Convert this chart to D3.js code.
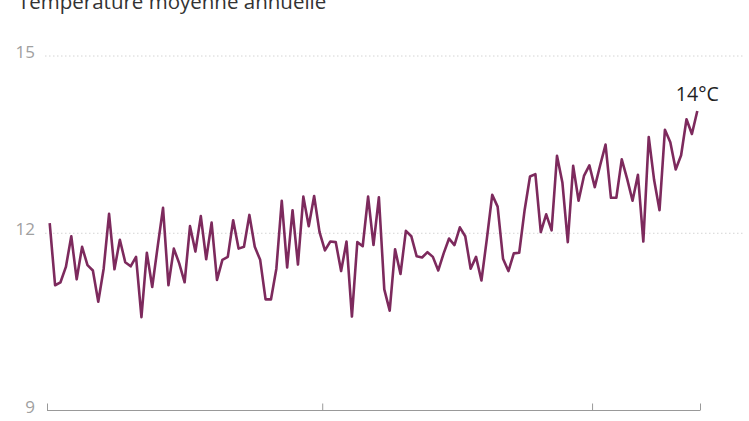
<!DOCTYPE html>
<html>
<head>
<meta charset="utf-8">
<script src="https://cdn.jsdelivr.net/npm/d3@7"></script>
<style>
  html, body { margin: 0; padding: 0; background: #fff; }
  svg { display: block; }
  text { font-family: "Open Sans", "DejaVu Sans", sans-serif; }
</style>
</head>
<body>
<svg id="chart" width="749" height="421"></svg>
<script>
const title = "Température moyenne annuelle";
const endLabel = "14°C";
const firstYear = 1899;
const temps = [
  12.17, 11.12, 11.17, 11.43, 11.95, 11.22, 11.77, 11.46, 11.37, 10.84,
  11.40, 12.33, 11.39, 11.89, 11.51, 11.44, 11.60, 10.58, 11.67, 11.09,
  11.77, 12.43, 11.12, 11.74, 11.49, 11.17, 12.12, 11.69, 12.29, 11.56,
  12.18, 11.21, 11.55, 11.60, 12.22, 11.74, 11.77, 12.31, 11.77, 11.55,
  10.88, 10.88, 11.40, 12.55, 11.42, 12.39, 11.47, 12.62, 12.12, 12.63,
  12.02, 11.71, 11.86, 11.85, 11.36, 11.86, 10.59, 11.85, 11.78, 12.62,
  11.80, 12.61, 11.05, 10.69, 11.73, 11.31, 12.04, 11.95, 11.61, 11.59,
  11.68, 11.60, 11.37, 11.66, 11.91, 11.80, 12.10, 11.95, 11.40, 11.60,
  11.20, 11.90, 12.65, 12.45, 11.57, 11.36, 11.66, 11.67, 12.39, 12.96,
  13.00, 12.02, 12.32, 12.05, 13.31, 12.86, 11.85, 13.14, 12.55, 12.97,
  13.15, 12.78, 13.15, 13.50, 12.60, 12.60, 13.25, 12.92, 12.55, 12.99,
  11.86, 13.63, 12.90, 12.39, 13.75, 13.54, 13.08, 13.32, 13.93, 13.68,
  14.07
];
const years = temps.map((_, i) => firstYear + i);
const yTicks = [9, 12, 15];
const xTicks = [1899, 1950, 2000, 2020];
const xTickLabels = ["1899", "1950", "2000", "2020"];

const svg = d3.select("#chart");
const x = d3.scaleLinear().domain([1899, 2020]).range([47, 700]);
const y = d3.scaleLinear().domain([9, 15]).range([410.5, 56]);

// title (cut off at top, as in the reference)
svg.append("text")
  .attr("x", 18).attr("y", 9)
  .attr("font-size", 20.5)
  .attr("fill", "#333")
  .text(title);

// gridlines
svg.append("g").selectAll("line")
  .data(yTicks.filter(d => d !== 9))
  .join("line")
  .attr("x1", 45).attr("x2", 745)
  .attr("y1", d => y(d)).attr("y2", d => y(d))
  .attr("stroke", "#d4d4d4")
  .attr("stroke-width", 1)
  .attr("stroke-dasharray", "1.5,2.5");

// y labels
svg.append("g").selectAll("text")
  .data(yTicks)
  .join("text")
  .attr("x", 35)
  .attr("y", d => y(d) + 2)
  .attr("text-anchor", "end")
  .attr("font-size", 17)
  .attr("fill", "#a0a0a0")
  .text(d => d);

// x axis
const xAxis = d3.axisBottom(x)
  .tickValues(xTicks)
  .tickSize(-7)
  .tickPadding(14)
  .tickFormat((d, i) => xTickLabels[i]);
const gx = svg.append("g")
  .attr("transform", `translate(0,${y(9)})`)
  .call(xAxis);
gx.select(".domain").attr("stroke", "#999").attr("d", `M${x(1899)},0H${x(2020)}`);
gx.selectAll(".tick line").attr("stroke", "#999");
gx.selectAll(".tick text").attr("fill", "#a0a0a0").attr("font-size", 14)
  .attr("font-family", "Open Sans, sans-serif");

// line
const line = d3.line()
  .x((d, i) => x(years[i] + 0.5))
  .y(d => y(d));
svg.append("path")
  .datum(temps)
  .attr("d", line)
  .attr("fill", "none")
  .attr("stroke", "#7d2a5d")
  .attr("stroke-width", 2.6)
  .attr("stroke-linejoin", "round");

// end label
svg.append("text")
  .attr("x", x(years[years.length - 1] + 0.5))
  .attr("y", y(temps[temps.length - 1]) - 10)
  .attr("text-anchor", "middle")
  .attr("font-size", 19.5)
  .attr("fill", "#222")
  .text(endLabel);
</script>
</body>
</html>
